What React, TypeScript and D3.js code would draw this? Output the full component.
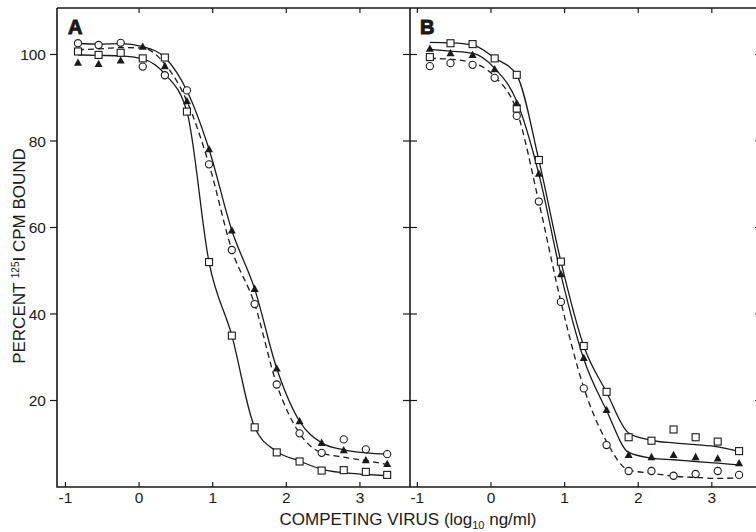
import React from 'react';
import * as d3 from 'd3';

// log10 ng/ml of competing virus, same dilution series in both panels
const doses = [-0.83, -0.55, -0.25, 0.05, 0.35, 0.65, 0.95, 1.26, 1.57, 1.87, 2.18, 2.48, 2.78, 3.08, 3.37];

// panel A measured points (percent 125I cpm bound)
const aCircles = [102.6, 102.2, 102.7, 97.2, 95.2, 91.7, 74.6, 54.8, 42.3, 23.7, 12.4, 7.9, 11.0, 8.7, 7.6];
const aSquares = [100.7, 99.9, 100.4, 99.1, 99.3, 86.8, 52.0, 35.0, 13.8, 8.0, 5.9, 3.8, 3.9, 3.5, 2.8];
const aTriangles = [98.1, 97.8, 98.6, 101.8, 97.3, 89.2, 78.1, 59.3, 45.8, 27.4, 15.2, 10.2, 8.5, 6.2, 5.3];

// panel A fitted curves
const aFitUpper = [102.6, 102.4, 102.5, 101.8, 99.3, 91.6, 78.1, 59.3, 45.8, 27.4, 15.2, 10.2, 8.6, 7.9, 7.6];
const aFitDashed = [101.1, 101.3, 101.6, 101.5, 97.8, 89.2, 74.6, 54.8, 42.3, 23.7, 12.4, 7.9, 6.9, 6.1, 5.2];
const aFitLower = [99.9, 99.8, 99.7, 99.0, 95.5, 86.8, 52.0, 35.0, 13.8, 8.2, 6.0, 4.1, 3.3, 2.9, 2.6];

// panel B measured points
const bCircles = [97.3, 98.0, 97.6, 94.6, 85.8, 66.0, 42.8, 22.8, 9.7, 3.7, 3.7, 2.6, 3.0, 3.7, 2.8];
const bSquares = [99.4, 102.6, 102.4, 99.1, 95.3, 75.6, 52.1, 32.6, 22.0, 11.5, 10.7, 13.3, 11.5, 10.5, 8.3];
const bTriangles = [101.3, 100.3, 99.9, 96.6, 88.7, 72.4, 49.2, 29.8, 17.8, 7.4, 6.9, 7.4, 6.9, 6.6, 5.5];
const bExtraSquareX = [0.35];
const bExtraSquareY = [87.5];

// panel B fitted curves
const bFitUpper = [102.8, 102.7, 102.2, 99.2, 95.2, 75.6, 52.1, 32.6, 21.9, 12.5, 10.8, 10.2, 9.8, 9.3, 8.2];
const bFitMiddle = [101.2, 100.8, 100.3, 96.8, 89.2, 72.4, 49.1, 29.6, 17.7, 8.0, 6.7, 6.3, 5.9, 5.5, 5.1];
const bFitDashed = [99.1, 98.9, 98.1, 94.9, 87.0, 65.9, 42.8, 23.0, 10.5, 3.9, 3.2, 2.5, 2.2, 2.0, 2.1];

const xTicks = [-1, 0, 1, 2, 3];
const yTicks = [20, 40, 60, 80, 100];

const W = 756, H = 532;
const top = 8, bottom = 487;
const font = '"Liberation Sans", Arial, Helvetica, sans-serif';
const ink = '#1a1a1a';

const y = d3.scaleLinear().domain([0, 110.75]).range([bottom, top]);

function Markers({ x, xs, ys, kind }) {
  return <g>
    {ys.map((v, i) => {
      const cx = x(xs[i]), cy = y(v);
      if (kind === 'circle') return <circle key={i} cx={cx} cy={cy} r={3.6} fill="#fff" stroke={ink} strokeWidth={1.1} />;
      if (kind === 'square') return <rect key={i} x={cx - 3.5} y={cy - 3.5} width={7} height={7} fill="#fff" stroke={ink} strokeWidth={1.1} />;
      return <path key={i} d={`M${cx},${cy - 4.3}L${cx + 4},${cy + 3}L${cx - 4},${cy + 3}Z`} fill={ink} />;
    })}
  </g>;
}

function Panel({ x0, x1, domain, label, fits, marks, topTicks }) {
  const x = d3.scaleLinear().domain(domain).range([x0, x1]);
  const line = d3.line().x(d => x(d[0])).y(d => y(d[1])).curve(d3.curveMonotoneX);
  return <g>
    {fits.map((f, i) => (
      <path key={i} d={line(doses.map((dd, j) => [dd, f.ys[j]]))} fill="none" stroke={ink}
        strokeWidth={1.3} strokeDasharray={f.dashed ? '6,4' : null} />
    ))}
    {marks.map((m, i) => <Markers key={i} x={x} xs={m.xs || doses} ys={m.ys} kind={m.kind} />)}
    {xTicks.map(t => (
      <g key={t}>
        <line x1={x(t)} x2={x(t)} y1={bottom} y2={bottom - 5} stroke={ink} strokeWidth={1.2} />
        <text x={x(t)} y={503} textAnchor="middle" fontSize={15.5} fontFamily={font} fill={ink}>
          {t < 0 ? '-' + Math.abs(t) : t}
        </text>
      </g>
    ))}
    {topTicks.map(t => (
      <line key={t} x1={x(t)} x2={x(t)} y1={top} y2={top + 5} stroke={ink} strokeWidth={1.2} />
    ))}
    <text x={x0 + (label === 'A' ? 11 : 10)} y={34} fontSize={20} fontWeight="bold" fontFamily={font}
      fill={ink} stroke={ink} strokeWidth={1}>{label}</text>
  </g>;
}

export default function App() {
  return <svg width={W} height={H} style={{ position: 'absolute', left: 0, top: 0, background: '#fff' }}>
    <rect width={W} height={H} fill="#fff" />
    <Panel x0={57} x1={410} domain={[-1.115, 3.68]} label="A" topTicks={[0, 1, 2, 3]}
      fits={[{ ys: aFitUpper }, { ys: aFitDashed, dashed: true }, { ys: aFitLower }]}
      marks={[{ ys: aCircles, kind: 'circle' }, { ys: aSquares, kind: 'square' }, { ys: aTriangles, kind: 'tri' }]} />
    <Panel x0={410} x1={763} domain={[-1.1, 3.695]} label="B" topTicks={[-1, 0, 1, 2, 3]}
      fits={[{ ys: bFitUpper }, { ys: bFitMiddle }, { ys: bFitDashed, dashed: true }]}
      marks={[{ ys: bCircles, kind: 'circle' }, { ys: bSquares, kind: 'square' },
        { xs: bExtraSquareX, ys: bExtraSquareY, kind: 'square' }, { ys: bTriangles, kind: 'tri' }]} />

    {/* frame */}
    <path d={`M57,${top}V${bottom}H${W}M57,${top}H${W}M410,${top}V${bottom}`} fill="none" stroke={ink} strokeWidth={1.6} />

    {yTicks.map(t => (
      <g key={t}>
        <line x1={50} x2={57} y1={y(t)} y2={y(t)} stroke={ink} strokeWidth={1.2} />
        <line x1={403} x2={417} y1={y(t)} y2={y(t)} stroke={ink} strokeWidth={1.2} />
        <line x1={755} x2={763} y1={y(t)} y2={y(t)} stroke={ink} strokeWidth={1.2} />
        <text x={46} y={y(t)} dy="0.36em" textAnchor="end" fontSize={15.5} fontFamily={font} fill={ink}>{t}</text>
      </g>
    ))}

    <text transform={`translate(25,256) rotate(-90)`} textAnchor="middle" fontSize={17} fontFamily={font} fill={ink}>
      PERCENT <tspan fontSize={10} dy={-6}>125</tspan><tspan dy={6}>I CPM BOUND</tspan>
    </text>
    <text x={408} y={525} textAnchor="middle" fontSize={17} fontFamily={font} fill={ink}>
      COMPETING VIRUS (log<tspan fontSize={11} dy={4}>10</tspan><tspan dy={-4}> ng/ml)</tspan>
    </text>
  </svg>;
}
